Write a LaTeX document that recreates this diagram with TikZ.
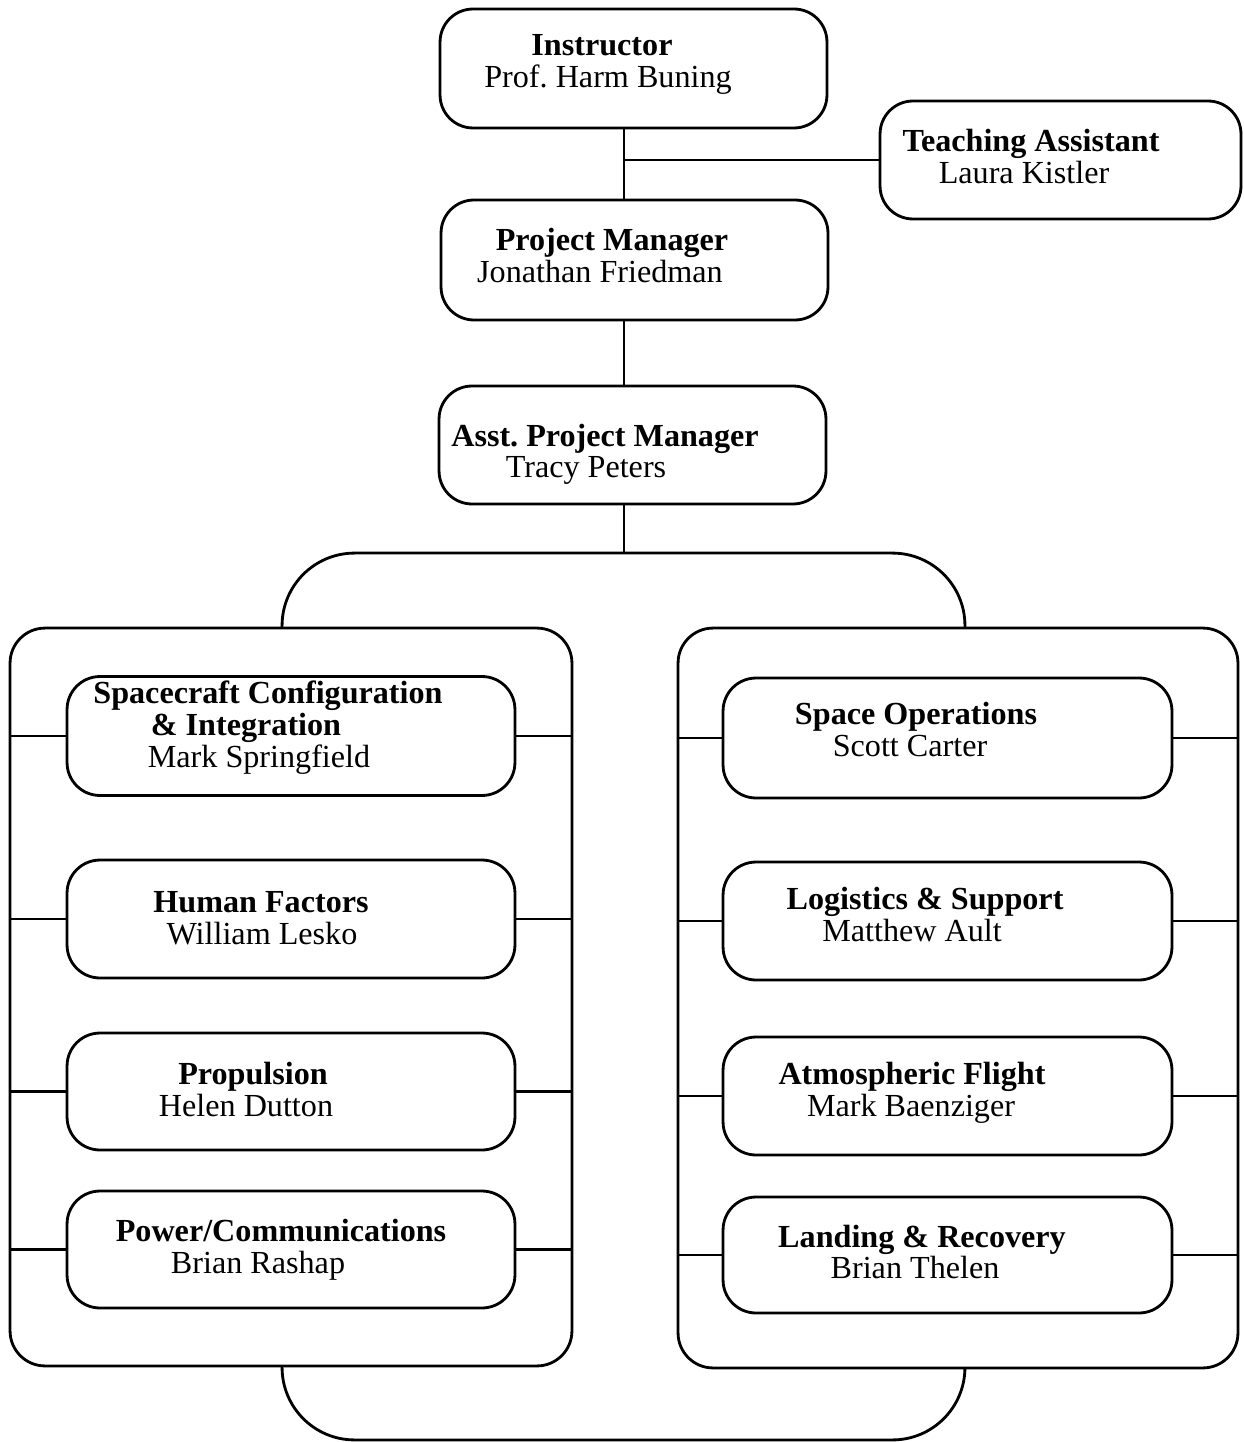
\documentclass[tikz,border=0pt]{standalone}
\usepackage{fontspec}
\setmainfont{Liberation Serif}
\frenchspacing
\begin{document}
\begin{tikzpicture}[x=0.02cm,y=-0.02cm,
  box/.style={draw,line width=1.6pt,rounded corners=0.66cm,inner sep=0pt,outer sep=0pt,fill=white},
  col/.style={draw,line width=1.6pt,rounded corners=0.7cm,inner sep=0pt,outer sep=0pt,fill=white},
  link/.style={line width=1.5pt},
  ttl/.style={anchor=base,inner sep=0pt,font=\fontsize{18.3}{20}\selectfont\bfseries},
  nm/.style={anchor=base,inner sep=0pt,font=\fontsize{18.3}{20}\selectfont}]
\useasboundingbox (0,0) rectangle (1243,1442);
\coordinate (spine) at (624,0);
% top hierarchy
\node[box,minimum width=7.74cm,minimum height=2.38cm] (instr) at (633.5,68.5) {};
\node[box,minimum width=7.22cm,minimum height=2.36cm] (ta) at (1060.5,160) {};
\node[box,minimum width=7.74cm,minimum height=2.40cm] (pm) at (634.5,260) {};
\node[box,minimum width=7.74cm,minimum height=2.36cm] (apm) at (632.5,445) {};
% frame behind the columns
\node[draw,line width=1.6pt,rounded corners=1.45cm,inner sep=0pt,outer sep=0pt,minimum width=13.66cm,minimum height=17.74cm] (frame) at (623.5,996.5) {};
\node[col,minimum width=11.24cm,minimum height=14.76cm] (lcol) at (291,997) {};
\node[col,minimum width=11.20cm,minimum height=14.80cm] (rcol) at (958,998) {};
% connectors top
\draw[link] (instr.south -| spine) -- (pm.north -| spine);
\draw[link] (ta.west) -- (ta.west -| spine);
\draw[link] (pm.south -| spine) -- (apm.north -| spine);
\draw[link] (apm.south -| spine) -- (frame.north -| spine);
% left column boxes
\node[box,minimum width=8.96cm,minimum height=2.38cm] (sc) at (291,736) {};
\node[box,minimum width=8.96cm,minimum height=2.36cm] (hf) at (291,919) {};
\node[box,minimum width=8.96cm,minimum height=2.34cm] (pr) at (291,1091.5) {};
\node[box,minimum width=8.96cm,minimum height=2.34cm] (pc) at (291,1249.5) {};
% right column boxes
\node[box,minimum width=8.98cm,minimum height=2.40cm] (so) at (947.5,738) {};
\node[box,minimum width=8.98cm,minimum height=2.36cm] (ls) at (947.5,921) {};
\node[box,minimum width=8.98cm,minimum height=2.36cm] (af) at (947.5,1096) {};
\node[box,minimum width=8.98cm,minimum height=2.32cm] (lr) at (947.5,1255) {};
% column connectors
\foreach \b in {sc,hf,pr,pc}{
  \draw[link] (\b.west) -- (\b.west -| lcol.west);
  \draw[link] (\b.east) -- (\b.east -| lcol.east);
}
\foreach \b in {so,ls,af,lr}{
  \draw[link] (\b.west) -- (\b.west -| rcol.west);
  \draw[link] (\b.east) -- (\b.east -| rcol.east);
}
% texts
\node[ttl] (t1) at (602,56) {Instructor};
\node[nm] (n1) at (608,88) {Prof. Harm Buning};
\node[ttl] (t2) at (1031,152) {Teaching Assistant};
\node[nm] (n2) at (1024,184) {Laura Kistler};
\node[ttl] (t3) at (612,251) {Project Manager};
\node[nm] (n3) at (600,283) {Jonathan Friedman};
\node[ttl] (t4) at (605,446) {Asst. Project Manager};
\node[nm] (n4) at (586,477) {Tracy Peters};
\node[ttl] (t5) at (268,703) {Spacecraft Configuration};
\node[ttl] (t5b) at (246,735) {\& Integration};
\node[nm] (n5) at (259,767) {Mark Springfield};
\node[ttl] (t6) at (261,912) {Human Factors};
\node[nm] (n6) at (262,944) {William Lesko};
\node[ttl] (t7) at (253,1084) {Propulsion};
\node[nm] (n7) at (246,1116) {Helen Dutton};
\node[ttl] (t8) at (281,1241) {Power/Communications};
\node[nm] (n8) at (258,1273) {Brian Rashap};
\node[ttl] (t9) at (916,724) {Space Operations};
\node[nm] (n9) at (910,756) {Scott Carter};
\node[ttl] (t10) at (925,909) {Logistics \& Support};
\node[nm] (n10) at (912,941) {Matthew Ault};
\node[ttl] (t11) at (912,1084) {Atmospheric Flight};
\node[nm] (n11) at (911,1116) {Mark Baenziger};
\node[ttl] (t12) at (922,1247) {Landing \& Recovery};
\node[nm] (n12) at (915,1278) {Brian Thelen};
\end{tikzpicture}
\end{document}
